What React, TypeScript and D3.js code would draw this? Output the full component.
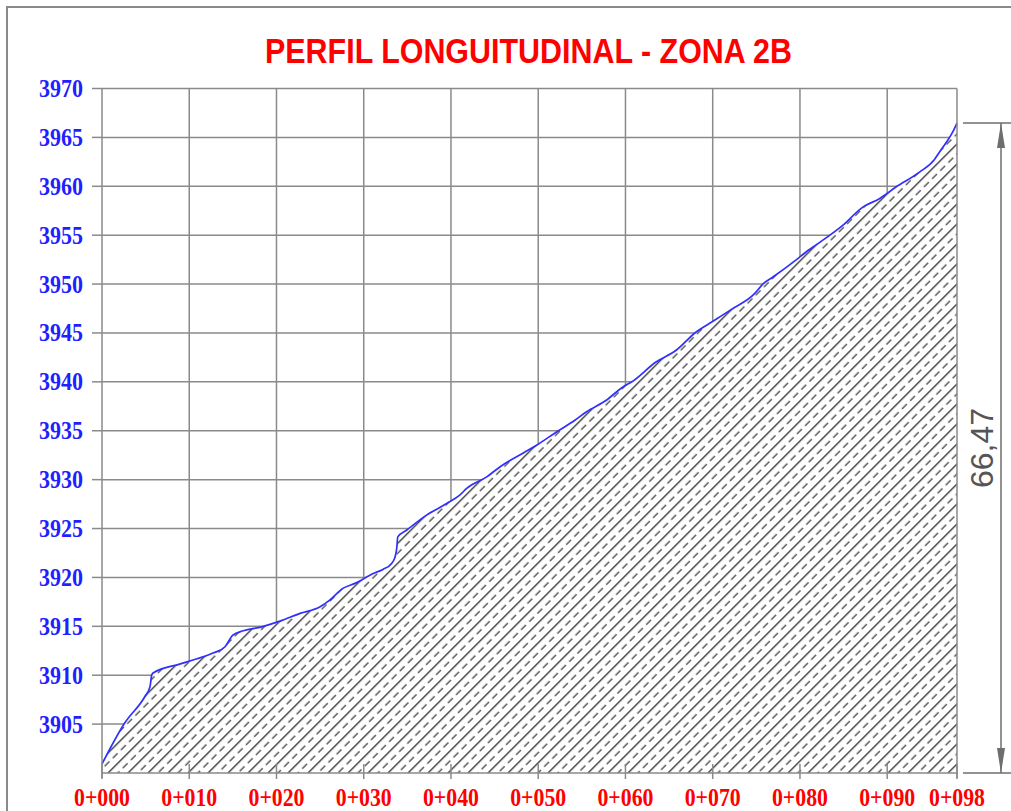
import * as d3 from "d3";
import React from "react";

// ground profile (station in m, elevation in m)
const stations = [0, 2.6, 4.9, 5.5, 5.7, 5.9, 8.9, 10.9, 12.8, 14.1, 15.0, 16.2, 18.3, 20.4, 22.7, 25.0, 26.1, 27.6, 29.0, 31.1, 32.2, 33.2, 33.6, 33.8, 33.9, 34.9, 37.2, 39.5, 41.0, 41.8, 44.1, 45.6, 48.3, 49.8, 52.1, 54.2, 55.5, 57.8, 59.7, 60.7, 63.5, 65.8, 68.1, 69.6, 72.1, 74.8, 75.8, 76.9, 79.6, 80.7, 81.5, 84.9, 87.2, 89.1, 91.0, 93.7, 95.4, 96.0, 96.8, 97.5, 98];
const elevations = [3900.92, 3905.11, 3907.8, 3908.82, 3910.02, 3910.25, 3911.14, 3911.68, 3912.29, 3912.91, 3914.1, 3914.54, 3914.95, 3915.53, 3916.32, 3917.0, 3917.68, 3918.88, 3919.39, 3920.41, 3920.82, 3921.43, 3922.11, 3923.13, 3924.15, 3924.83, 3926.37, 3927.56, 3928.41, 3929.1, 3930.28, 3931.3, 3932.73, 3933.52, 3934.88, 3936.08, 3936.92, 3938.12, 3939.48, 3939.99, 3942.03, 3943.23, 3945.1, 3945.96, 3947.39, 3949.02, 3950.05, 3950.72, 3952.5, 3953.28, 3953.79, 3956.0, 3957.87, 3958.73, 3959.92, 3961.45, 3962.72, 3963.5, 3964.52, 3965.54, 3966.47];

const xTicks = [0, 10, 20, 30, 40, 50, 60, 70, 80, 90, 98];
const yTicks = [3905, 3910, 3915, 3920, 3925, 3930, 3935, 3940, 3945, 3950, 3955, 3960, 3965, 3970];
const baseElevation = 3900;
const title = "PERFIL LONGUITUDINAL - ZONA 2B";

export default function App() {
  const WIDTH = 1011;
  const HEIGHT = 811;
  const margin = { left: 102, right: 957, top: 88.5, bottom: 773 };

  const x = d3.scaleLinear().domain([0, 98]).range([margin.left, margin.right]);
  const y = d3.scaleLinear().domain([baseElevation, 3970]).range([margin.bottom, margin.top]);

  const data = stations.map((s, i) => ({ s, e: elevations[i] }));

  const line = d3
    .line<{ s: number; e: number }>()
    .x(d => x(d.s))
    .y(d => y(d.e))
    .curve(d3.curveMonotoneX);

  const area = d3
    .area<{ s: number; e: number }>()
    .x(d => x(d.s))
    .y1(d => y(d.e))
    .y0(y(baseElevation))
    .curve(d3.curveMonotoneX);

  const last = data[data.length - 1];
  const dimTop = y(last.e);
  const dimBottom = y(baseElevation);
  const dimX = 1001;
  const dimText = (last.e - baseElevation).toFixed(2).replace(".", ",");

  const gridColor = "#8a8a8a";
  const fmtStation = (d: number) => `0+${String(d).padStart(3, "0")}`;

  return (
    <svg
      width={WIDTH}
      height={HEIGHT}
      style={{ position: "absolute", left: 0, top: 0, background: "#fff" }}
    >
      <defs>
        <pattern
          id="hatch"
          patternUnits="userSpaceOnUse"
          width={14.142}
          height={11.5}
          patternTransform="rotate(45)"
        >
          <line x1={0.7} x2={0.7} y1={0} y2={11.5} stroke="#2a2a2a" strokeWidth={1.3} />
          <line x1={7.77} x2={7.77} y1={1} y2={8} stroke="#444" strokeWidth={1.3} />
        </pattern>
      </defs>

      {/* outer frame */}
      <rect x={7} y={7} width={1040} height={850} fill="none" stroke="#8a8a8a" strokeWidth={2} />

      {/* title */}
      <text
        x={528.5}
        y={63}
        textAnchor="middle"
        fontFamily="Liberation Sans, Arial, sans-serif"
        fontWeight="bold"
        fontSize={35}
        fill="#ff0000"
        textLength={527}
        lengthAdjust="spacingAndGlyphs"
      >
        {title}
      </text>

      {/* grid */}
      <g stroke={gridColor} strokeWidth={1.5}>
        {yTicks.map(d => (
          <line key={d} x1={margin.left} x2={margin.right} y1={y(d)} y2={y(d)} />
        ))}
        {xTicks.slice(1, -1).map(d => (
          <line key={d} x1={x(d)} x2={x(d)} y1={margin.top} y2={margin.bottom} />
        ))}
      </g>

      {/* ground fill + hatch */}
      <path d={area(data) || ""} fill="#fff" />
      <path d={area(data) || ""} fill="url(#hatch)" />

      {/* ground line */}
      <path d={line(data) || ""} fill="none" stroke="#2f2fff" strokeWidth={1.7} />

      {/* axes */}
      <g stroke={gridColor} strokeWidth={1.5}>
        <line x1={margin.left} x2={margin.left} y1={margin.top} y2={margin.bottom + 5} />
        <line x1={margin.right} x2={margin.right} y1={margin.top} y2={margin.bottom + 5} />
        <line x1={margin.left} x2={margin.right} y1={margin.bottom} y2={margin.bottom} />
        {yTicks.map(d => (
          <line key={d} x1={margin.left - 10} x2={margin.left} y1={y(d)} y2={y(d)} />
        ))}
        {xTicks.map(d => (
          <line key={d} x1={x(d)} x2={x(d)} y1={margin.bottom - 9} y2={margin.bottom + 6} />
        ))}
      </g>

      {/* y labels */}
      <g
        fontFamily="Liberation Serif, Times New Roman, serif"
        fontWeight="bold"
        fontSize={25}
        fill="#1f1fff"
        textAnchor="end"
      >
        {yTicks.map(d => (
          <text key={d} x={83} y={y(d) + 8.5} textLength={44} lengthAdjust="spacingAndGlyphs">
            {d}
          </text>
        ))}
      </g>

      {/* x labels */}
      <g
        fontFamily="Liberation Serif, Times New Roman, serif"
        fontWeight="bold"
        fontSize={25}
        fill="#ff0000"
        textAnchor="middle"
      >
        {xTicks.map(d => (
          <text key={d} x={x(d)} y={806} textLength={56} lengthAdjust="spacingAndGlyphs">
            {fmtStation(d)}
          </text>
        ))}
      </g>

      {/* height dimension */}
      <g stroke="#6e6e6e" strokeWidth={1.5} fill="#6e6e6e">
        <line x1={963} x2={1011} y1={dimTop} y2={dimTop} />
        <line x1={963} x2={1011} y1={dimBottom} y2={dimBottom} />
        <line x1={dimX} x2={dimX} y1={dimTop} y2={dimBottom} />
        <path d={`M${dimX},${dimTop} L${dimX - 4},${dimTop + 25} L${dimX + 4},${dimTop + 25} Z`} stroke="none" />
        <path d={`M${dimX},${dimBottom} L${dimX - 4},${dimBottom - 25} L${dimX + 4},${dimBottom - 25} Z`} stroke="none" />
      </g>
      <text
        transform={`translate(993,${(dimTop + dimBottom) / 2}) rotate(-90)`}
        textAnchor="middle"
        fontFamily="Liberation Sans, Arial, sans-serif"
        fontSize={32}
        fill="#555"
      >
        {dimText}
      </text>
    </svg>
  );
}
